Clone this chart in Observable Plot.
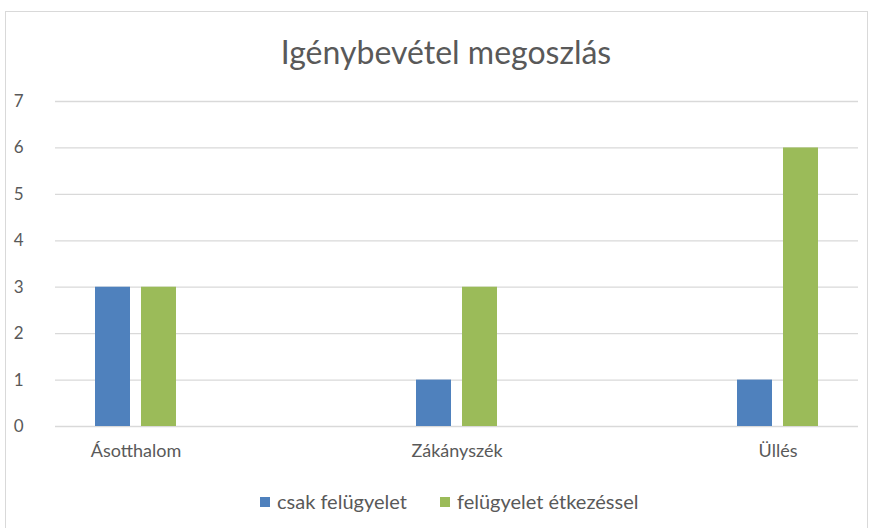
<!DOCTYPE html>
<html>
<head>
<meta charset="utf-8">
<script src="https://cdn.jsdelivr.net/npm/d3@7"></script>
<script src="https://cdn.jsdelivr.net/npm/@observablehq/plot@0.6"></script>
<style>
  html, body { margin: 0; padding: 0; background: #fff; }
  body { width: 874px; height: 528px; position: relative; overflow: hidden; font-family: Lato, "Open Sans", sans-serif; color: #595959; }
  #frame { position: absolute; left: 5px; top: 11px; width: 863px; height: 530px; border: 1px solid #d9d9d9; box-sizing: border-box; }
  #title { position: absolute; left: 0; top: 0; width: 874px; height: 82px; }
  #title span { position: absolute; left: 446px; top: 51px; transform: translate(-50%, -50%); font-size: 32px; white-space: nowrap; color: #595959; }
  #chart { position: absolute; left: 0; top: 82px; }
  #legend { position: absolute; left: 0; top: 470px; width: 874px; height: 58px; font-size: 20px; }
  .item { position: absolute; top: 31px; transform: translateY(-50%); display: flex; align-items: center; white-space: nowrap; }
  .sw { width: 10px; height: 10px; margin-right: 7px; margin-top: 2px; }
</style>
</head>
<body>
<div id="frame"></div>
<div id="title"><span>Igénybevétel megoszlás</span></div>
<div id="chart"></div>
<div id="legend"></div>
<script>
const groups = ["Ásotthalom", "Zákányszék", "Üllés"];
const series = ["csak felügyelet", "felügyelet étkezéssel"];
const csakFelugyelet = [3, 1, 1];
const felugyeletEtkezessel = [3, 3, 6];
const yTicks = [0, 1, 2, 3, 4, 5, 6, 7];
const colors = ["#4F81BD", "#9BBB59"];

const data = groups.flatMap((g, i) => [
  {group: g, series: series[0], value: csakFelugyelet[i]},
  {group: g, series: series[1], value: felugyeletEtkezessel[i]}
]);

const chart = Plot.plot({
  width: 874,
  height: 388,
  marginTop: 19,
  marginBottom: 44,
  marginLeft: 55,
  marginRight: 16,
  style: {fontFamily: "Lato, 'Open Sans', sans-serif", fontSize: "17px", color: "#595959", background: "transparent"},
  x: {domain: groups, paddingInner: 0, paddingOuter: -0.25, tickSize: 0, tickPadding: 19, label: null},
  y: {domain: [0, 7], ticks: yTicks, tickSize: 0, tickPadding: 32, label: null, tickFormat: d => String(d)},
  color: {domain: series, range: colors},
  marks: [
    Plot.ruleY(yTicks, {stroke: "#d9d9d9", strokeWidth: 1.3}),
    Plot.barY(data.filter(d => d.series === series[0]), {x: "group", y: "value", fill: "series", insetLeft: 143, insetRight: 143, dx: -23}),
    Plot.barY(data.filter(d => d.series === series[1]), {x: "group", y: "value", fill: "series", insetLeft: 143, insetRight: 143, dx: 23}),
    Plot.axisX({tickSize: 0, tickPadding: 18, fontSize: 18, label: null})
  ]
});
document.getElementById("chart").appendChild(chart);

const legend = document.getElementById("legend");
const legendX = [260, 440];
series.forEach((s, i) => {
  const it = document.createElement("div");
  it.className = "item";
  it.style.left = legendX[i] + "px";
  const sw = document.createElement("span");
  sw.className = "sw";
  sw.style.background = colors[i];
  const tx = document.createElement("span");
  tx.textContent = s;
  it.appendChild(sw);
  it.appendChild(tx);
  legend.appendChild(it);
});
</script>
</body>
</html>
